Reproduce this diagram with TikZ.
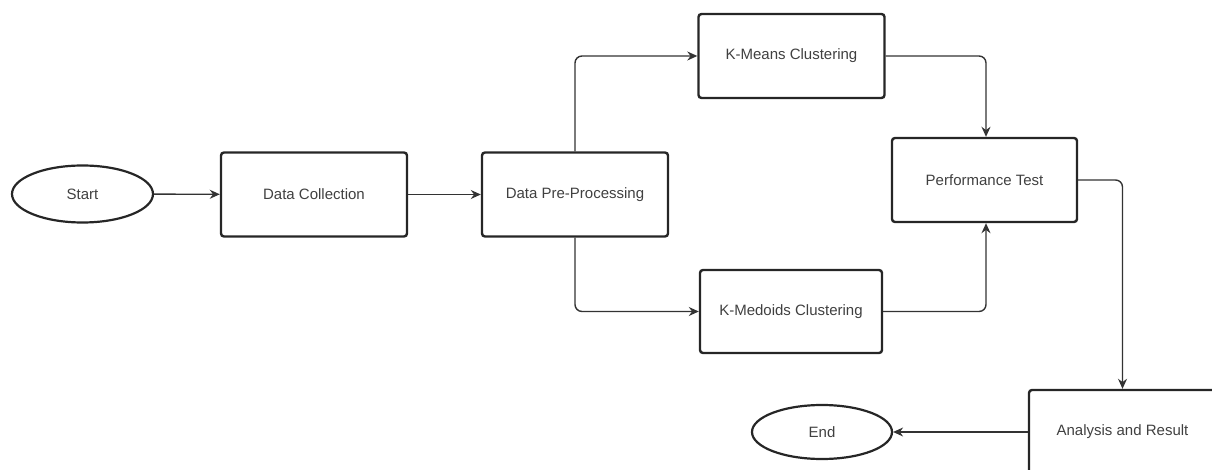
\documentclass[tikz,border=0pt]{standalone}
\usepackage{fontspec}
\setmainfont{Liberation Sans}
\usetikzlibrary{shapes.geometric,arrows.meta}
\begin{document}
\begin{tikzpicture}[x=1pt,y=-1pt,
  box/.style={draw=black!85,line width=2.4pt,rounded corners=3pt,minimum width=186pt,minimum height=84pt,inner sep=0pt,text=black!75,font=\fontsize{15}{18}\selectfont},
  oval/.style={draw=black!85,ellipse,line width=2.2pt,inner sep=0pt,text=black!75,font=\fontsize{15}{18}\selectfont},
  conn/.style={draw=black!80,line width=1.4pt,rounded corners=7pt,-{Stealth[length=10pt,width=9pt]}}]
\useasboundingbox (0,0) rectangle (1212,470);
\node[oval,minimum width=141pt,minimum height=57pt] (start) at (82.5,194) {Start};
\node[box] (dc) at (314,194.5) {Data Collection};
\node[box] (dpp) at (575,194.5) {Data Pre-Processing};
\node[box] (km) at (791.5,56) {K-Means Clustering};
\node[box,minimum width=182pt,minimum height=83pt] (kmed) at (791,311.5) {K-Medoids Clustering};
\node[box,minimum width=185pt] (perf) at (984.5,180) {Performance Test};
\node[box,minimum width=187pt] (ar) at (1122.5,432) {Analysis and Result};
\node[oval,minimum width=140pt,minimum height=54pt] (end) at (822,432) {End};
\draw[conn] (start) -- (dc);
\draw[conn] (dc) -- (dpp);
\draw[conn] (dpp.north) |- (km.west);
\draw[conn] (dpp.south) |- (kmed.west);
\draw[conn] (km.east) -| ([xshift=1.5pt]perf.north);
\draw[conn] (kmed.east) -| ([xshift=1.5pt]perf.south);
\draw[conn] (perf.east) -| (ar.north);
\draw[conn] (ar.west) -- (end.east);
\end{tikzpicture}
\end{document}
